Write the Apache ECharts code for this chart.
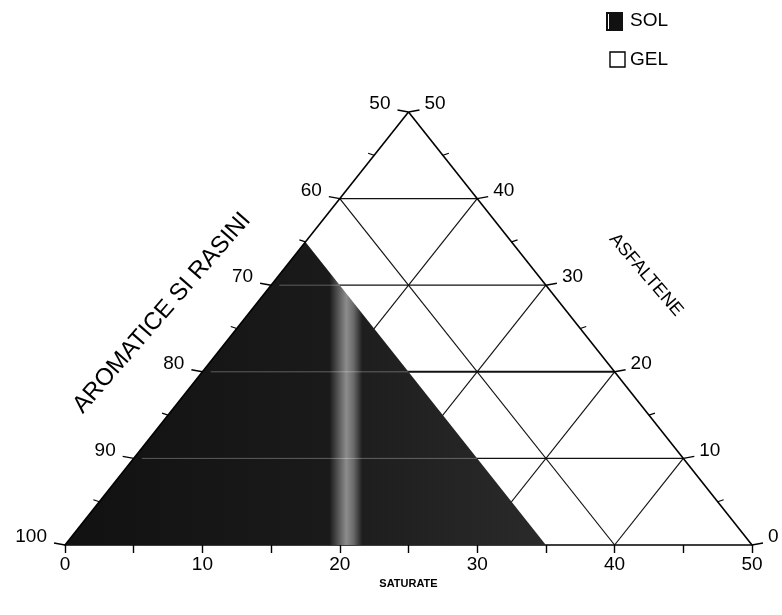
<!DOCTYPE html>
<html>
<head>
<meta charset="utf-8">
<script src="https://cdn.jsdelivr.net/npm/echarts@6/dist/echarts.min.js"></script>
<style>html,body{margin:0;padding:0;background:#fff}#c{width:782px;height:615px}</style>
</head>
<body>
<div id="c"></div>
<script>
// ---- data ----
const saturateTicks = [0, 10, 20, 30, 40, 50];
const aromaticTicks = [100, 90, 80, 70, 60, 50];
const asfalteneTicks = [0, 10, 20, 30, 40, 50];
const minorTicks = [5, 15, 25, 35, 45];
const gridLevels = [10, 20, 30, 40];
// SOL region vertices as [saturate, asfaltene]
const solRegion = [[0, 0], [0, 35], [35, 0]];

// ternary -> cartesian (x = saturate + asfaltene/2, y = asfaltene)
function tern(s, a) { return [s + a / 2, a]; }

const FONT = '"Liberation Sans", Arial, sans-serif';
const chart = echarts.init(document.getElementById('c'));

function renderFrame(params, api) {
  const ch = [];
  const P = (s, a) => api.coord(tern(s, a));
  const line = (p1, p2, w, c) => ch.push({
    type: 'line', shape: { x1: p1[0], y1: p1[1], x2: p2[0], y2: p2[1] },
    style: { stroke: c || '#111', lineWidth: w || 1 }
  });
  // grid lines
  gridLevels.forEach(g => {
    line(P(0, g), P(50 - g, g), g === 20 ? 1.9 : 1.2);
    line(P(0, g), P(g, 0), 1.2);
    line(P(g, 0), P(g, 50 - g), 1.2);
  });
  // SOL region
  ch.push({
    type: 'polygon',
    shape: { points: solRegion.map(d => P(d[0], d[1])) },
    style: {
      fill: new echarts.graphic.LinearGradient(0, 0, 1, 0, [
        { offset: 0, color: '#111' },
        { offset: 0.55, color: '#1a1a1a' },
        { offset: 0.568, color: '#555' },
        { offset: 0.585, color: '#8c8c8c' },
        { offset: 0.6, color: '#6a6a6a' },
        { offset: 0.618, color: '#1e1e1e' },
        { offset: 1, color: '#2a2a2a' }
      ])
    }
  });
  // faint grid lines showing through the SOL fill
  gridLevels.forEach(g => {
    const end = Math.min(50 - g, 35 - g);
    if (end > 0) line(P(0.6, g), P(end, g), 1, 'rgba(255,255,255,0.3)');
  });
  // edges
  line(P(0, 0), P(0, 50), 1.6, '#000');
  line(P(50, 0), P(0, 50), 1.6, '#000');
  // left edge ticks and labels
  aromaticTicks.forEach(v => {
    const a = 100 - v;
    const p = P(0, a);
    line(p, [p[0] - 11, p[1] - 2], 1.4, '#000');
    ch.push({ type: 'text', style: { text: String(v), x: p[0] - 18, y: p[1] - 8, align: 'right', verticalAlign: 'middle', fontSize: 19, fontFamily: FONT, fill: '#000' } });
  });
  // right edge ticks and labels
  asfalteneTicks.forEach(v => {
    const p = P(50 - v, v);
    line(p, [p[0] + 11, p[1] - 2], 1.4, '#000');
    ch.push({ type: 'text', style: { text: String(v), x: p[0] + 16, y: p[1] - 8, align: 'left', verticalAlign: 'middle', fontSize: 19, fontFamily: FONT, fill: '#000' } });
  });
  // minor ticks on slanted edges
  minorTicks.forEach(v => {
    const pl = P(0, v);
    line(pl, [pl[0] - 6, pl[1] - 2], 1.2, '#000');
    const pr = P(50 - v, v);
    line(pr, [pr[0] + 6, pr[1] - 2], 1.2, '#000');
  });
  return { type: 'group', children: ch };
}

chart.setOption({
  animation: false,
  backgroundColor: '#fff',
  grid: { left: 65, right: 30, top: 112, bottom: 70, containLabel: false },
  xAxis: {
    type: 'value', min: 0, max: 50, interval: 5,
    axisLine: { lineStyle: { color: '#000', width: 1.6 } },
    axisTick: { length: 8, lineStyle: { color: '#000', width: 1.4 } },
    axisLabel: {
      formatter: v => (saturateTicks.indexOf(v) >= 0 ? String(v) : ''),
      fontSize: 19, color: '#000', fontFamily: FONT, margin: 10
    },
    splitLine: { show: false },
    name: 'SATURATE', nameLocation: 'middle', nameGap: 27,
    nameTextStyle: { fontSize: 11, fontWeight: 'bold', color: '#000', fontFamily: FONT }
  },
  yAxis: { type: 'value', min: 0, max: 50, show: false },
  series: [{
    type: 'custom', coordinateSystem: 'cartesian2d',
    data: [[0, 0]], renderItem: renderFrame, silent: true, clip: false
  }],
  graphic: [
    { type: 'text', x: 162, y: 313, rotation: 0.855,
      style: { text: 'AROMATICE SI RASINI', fontSize: 24, fontFamily: FONT, fill: '#000', align: 'center', verticalAlign: 'middle' } },
    { type: 'text', x: 646, y: 275, rotation: -0.86,
      style: { text: 'ASFALTENE', fontSize: 18, fontFamily: FONT, fill: '#000', align: 'center', verticalAlign: 'middle' } },
    { type: 'rect', shape: { x: 606, y: 12, width: 17, height: 19 }, style: { fill: '#111' } },
    { type: 'line', shape: { x1: 608.5, y1: 14, x2: 608.5, y2: 29 }, style: { stroke: '#fff', lineWidth: 1 } },
    { type: 'text', x: 630, y: 21, style: { text: 'SOL', fontSize: 19, fontFamily: FONT, fill: '#000', verticalAlign: 'middle' } },
    { type: 'rect', shape: { x: 610, y: 52, width: 15, height: 15 }, style: { fill: '#fff', stroke: '#000', lineWidth: 1.4 } },
    { type: 'text', x: 630, y: 60, style: { text: 'GEL', fontSize: 19, fontFamily: FONT, fill: '#000', verticalAlign: 'middle' } }
  ]
});
</script>
</body>
</html>
